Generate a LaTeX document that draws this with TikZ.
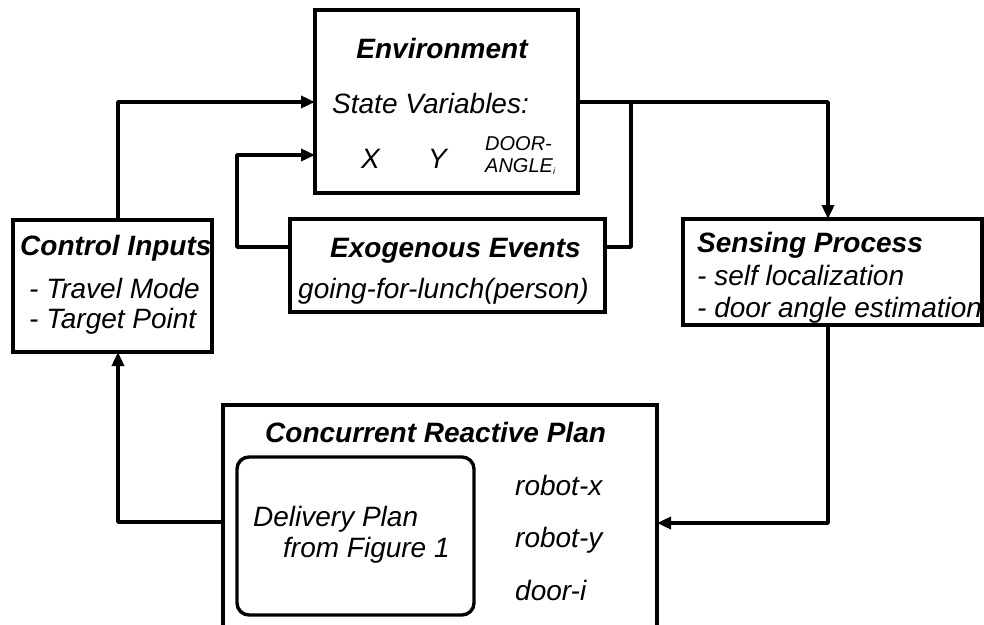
\documentclass[tikz,border=0pt]{standalone}
\usepackage{fontspec}
\setmainfont{Liberation Sans}
\usetikzlibrary{arrows.meta}

\tikzset{
  box/.style={draw, line width=3.4pt, inner sep=0pt, outer sep=0pt},
  lbl/.style={anchor=base west, inner sep=0pt, font=\fontsize{28}{32}\selectfont\itshape},
  head/.style={anchor=base west, inner sep=0pt, font=\fontsize{28}{32}\selectfont\bfseries\itshape},
  small/.style={anchor=base west, inner sep=0pt, font=\fontsize{20}{22}\selectfont\itshape},
  wire/.style={line width=3.4pt, line join=round},
  arr/.style={wire, -{Triangle[length=14pt,width=12pt]}}
}

\begin{document}
\begin{tikzpicture}[x=1pt,y=-1pt]
    \useasboundingbox (0,0) rectangle (984,624);
    \clip (0,0) rectangle (984,624);

    % boxes
    \node[box, minimum width=263pt, minimum height=183pt] (env) at (446.5,101.5) {};
    \node[box, minimum width=315pt, minimum height=93pt] (exo) at (447.5,265.5) {};
    \node[box, minimum width=199pt, minimum height=132pt] (ctrl) at (112.5,286) {};
    \node[box, minimum width=299pt, minimum height=106pt] (sense) at (832.5,272) {};
    \node[box, minimum width=434pt, minimum height=235pt] (plan) at (440,522.5) {};
    \node[box, rounded corners=12pt, minimum width=237pt, minimum height=158pt] (deliv) at (355.5,536) {};

    % texts
    \node[head, anchor=base] (envT) at (442,58) {Environment};
    \node[lbl] (envS) at (332,113) {State Variables:};
    \node[lbl] (envX) at (361,168) {X};
    \node[lbl] (envY) at (428,168) {Y};
    \node[small] (envD1) at (485,150) {DOOR-};
    \node[small] (envD2) at (485,172) {ANGLE\raisebox{-2pt}{\fontsize{9}{9}\selectfont i}};

    \node[head] (exoT) at (330,257) {Exogenous Events};
    \node[lbl] (exoL) at (298,298) {going-for-lunch(person)};

    \node[head] (ctrlT) at (20,255) {Control Inputs};
    \node[lbl] (ctrlA) at (29,298) {- Travel Mode};
    \node[lbl] (ctrlB) at (29,328) {- Target Point};

    \node[head] (senseT) at (697,252) {Sensing Process};
    \node[lbl] (senseA) at (697,285) {- self localization};
    \node[lbl] (senseB) at (697,317) {- door angle estimation};

    \node[head] (planT) at (265,442) {Concurrent Reactive Plan};
    \node[lbl] (delivA) at (253,526) {Delivery Plan};
    \node[lbl] (delivB) at (283,557) {from Figure 1};
    \node[lbl] (varX) at (515,495) {robot-x};
    \node[lbl] (varY) at (515,547) {robot-y};
    \node[lbl] (varD) at (515,600) {door-i};

    % bends
    \coordinate (ctrlup) at (118,102);
    \coordinate (exoleft) at (237,247);
    \coordinate (exoup) at (237,155);
    \coordinate (sensetop) at (828,102);
    \coordinate (branch) at (631,102);
    \coordinate (exoright) at (631,247);
    \coordinate (sensedown) at (828,523);
    \coordinate (planout) at (118,522);

    % connectors
    \draw[arr] (ctrl.north -| ctrlup) -- (ctrlup) -- (env.west |- ctrlup);
    \draw[arr] (exo.west |- exoleft) -- (exoleft) -- (exoup) -- (env.west |- exoup);
    \draw[arr] (env.east |- sensetop) -- (sensetop) -- (sense.north -| sensetop);
    \draw[wire] (branch) -- (exoright) -- (exo.east |- exoright);
    \draw[arr] (sense.south -| sensedown) -- (sensedown) -- (plan.east |- sensedown);
    \draw[arr] (plan.west |- planout) -- (planout) -- (ctrl.south -| planout);
\end{tikzpicture}
\end{document}
